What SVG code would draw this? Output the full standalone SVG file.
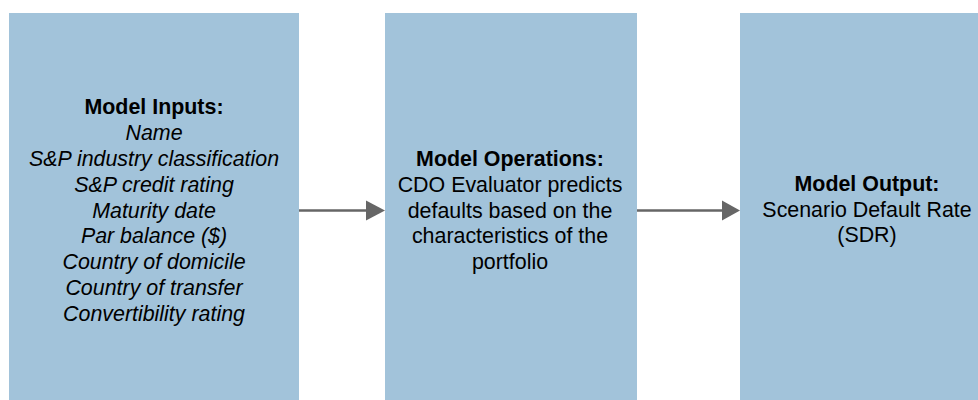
<svg xmlns="http://www.w3.org/2000/svg" width="978" height="400" viewBox="0 0 978 400">
  <defs>
    <style>
      .box { fill: #a2c3da; }
      .t { font-family: "Liberation Sans", Arial, sans-serif; font-size: 21.4px; fill: #000; text-anchor: middle; }
      .b { font-weight: bold; }
      .i { font-style: italic; }
      .conn { stroke: #666666; stroke-width: 2.5; fill: none; }
      .head { fill: #666666; }
    </style>
  </defs>

  <g id="model-inputs">
    <rect class="box" x="9" y="13" width="290" height="387"/>
    <text class="t b" x="154" y="114">Model Inputs:</text>
    <text class="t i" x="154" y="140">Name</text>
    <text class="t i" x="154" y="165.5">S&amp;P industry classification</text>
    <text class="t i" x="154" y="191.5">S&amp;P credit rating</text>
    <text class="t i" x="154" y="217.5">Maturity date</text>
    <text class="t i" x="154" y="243">Par balance ($)</text>
    <text class="t i" x="154" y="269">Country of domicile</text>
    <text class="t i" x="154" y="294.5">Country of transfer</text>
    <text class="t i" x="154" y="320.5">Convertibility rating</text>
  </g>

  <g id="model-operations">
    <rect class="box" x="385" y="13" width="252" height="387"/>
    <text class="t b" x="510" y="166">Model Operations:</text>
    <text class="t" x="510" y="192">CDO Evaluator predicts</text>
    <text class="t" x="510" y="217.5">defaults based on the</text>
    <text class="t" x="510" y="243">characteristics of the</text>
    <text class="t" x="510" y="268.5">portfolio</text>
  </g>

  <g id="model-output">
    <rect class="box" x="740" y="13" width="238" height="387"/>
    <text class="t b" x="867" y="191">Model Output:</text>
    <text class="t" x="867" y="216.5">Scenario Default Rate</text>
    <text class="t" x="867" y="242">(SDR)</text>
  </g>

  <g id="connectors">
    <path class="conn" d="M299,210.5 L368,210.5"/>
    <polygon class="head" points="366,200.5 385,210.5 366,220.5"/>
    <path class="conn" d="M637,210.5 L724,210.5"/>
    <polygon class="head" points="722,200.5 740,210.5 722,220.5"/>
  </g>
</svg>
